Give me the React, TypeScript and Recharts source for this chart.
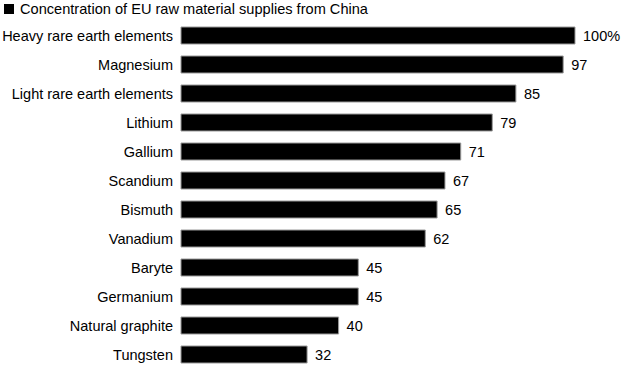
import React from "react";
import { BarChart, Bar, XAxis, YAxis, LabelList } from "recharts";

const materials = [
  "Heavy rare earth elements",
  "Magnesium",
  "Light rare earth elements",
  "Lithium",
  "Gallium",
  "Scandium",
  "Bismuth",
  "Vanadium",
  "Baryte",
  "Germanium",
  "Natural graphite",
  "Tungsten",
];

const shares = [100, 97, 85, 79, 71, 67, 65, 62, 45, 45, 40, 32];

const title = "Concentration of EU raw material supplies from China";

const data = materials.map((name, i) => ({ name, share: shares[i] }));

const font = "'Liberation Sans', Arial, sans-serif";

const App = () => {
  return (
    <div
      style={{
        position: "absolute",
        left: 0,
        top: 0,
        width: 626,
        height: 372,
        background: "#fff",
        fontFamily: font,
      }}
    >
      <div
        style={{
          position: "absolute",
          left: 4,
          top: 1,
          fontSize: 14.6,
          color: "#000",
          display: "flex",
          alignItems: "center",
          whiteSpace: "nowrap",
        }}
      >
        <span
          style={{
            display: "inline-block",
            width: 10,
            height: 10,
            background: "#000",
            marginRight: 6,
          }}
        />
        {title}
      </div>
      <BarChart
        width={626}
        height={372}
        data={data}
        layout="vertical"
        margin={{ top: 21, right: 51, bottom: 3, left: 0 }}
        barCategoryGap={6}
      >
        <XAxis type="number" domain={[0, 100]} hide />
        <YAxis
          type="category"
          dataKey="name"
          width={181}
          axisLine={false}
          tickLine={false}
          tick={{ fill: "#000", fontSize: 14.5, fontFamily: font }}
        />
        <Bar
          dataKey="share"
          fill="#000"
          stroke="#999"
          strokeWidth={1}
          isAnimationActive={false}
        >
          <LabelList
            dataKey="share"
            position="right"
            offset={8}
            fill="#000"
            fontSize={14.5}
            fontFamily={font}
            formatter={(v: any) => (v === 100 ? "100%" : `${v}`)}
          />
        </Bar>
      </BarChart>
    </div>
  );
};

export default App;
